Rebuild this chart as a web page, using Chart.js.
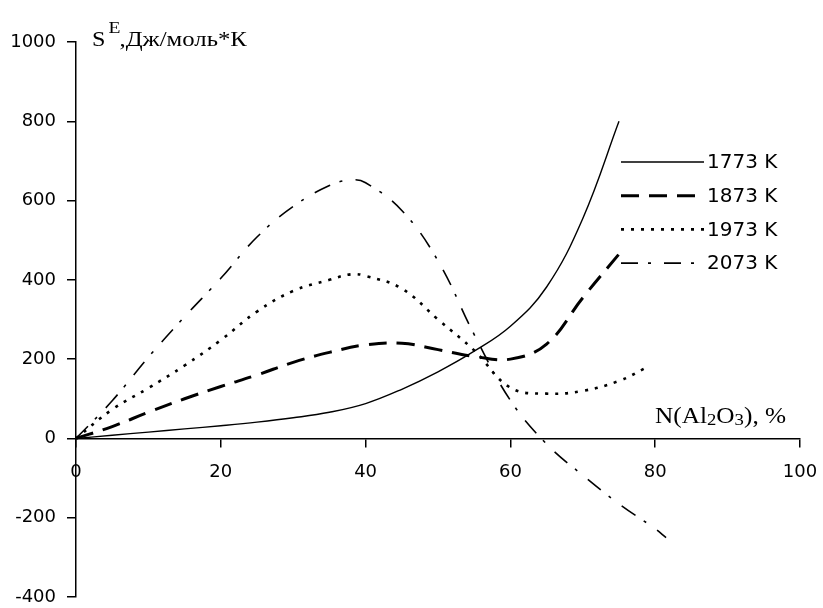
<!DOCTYPE html>
<html>
<head>
<meta charset="utf-8">
<script src="https://cdn.jsdelivr.net/npm/chart.js@4.4.0/dist/chart.umd.min.js"></script>
<style>
  html, body { margin: 0; padding: 0; background: #fff; }
  #wrap { width: 823px; height: 608px; }
</style>
</head>
<body>
<div id="wrap"><canvas id="chart"></canvas></div>
<script>
// Excess entropy S^E vs Al2O3 content at four temperatures
const seriesLabels = ['1773 K', '1873 K', '1973 K', '2073 K'];

const x1773 = [0, 5, 10, 15, 20, 25, 30, 35, 40, 45, 50, 55, 60, 65, 70, 75];
const s1773 = [0, 8, 16, 24, 32, 41, 52, 66, 88, 124, 168, 220, 283, 382, 555, 800];

const x1873 = [0, 5, 10, 15, 20, 25, 30, 35, 40, 45, 50, 55, 60, 65, 70, 75];
const s1873 = [0, 30, 66, 100, 131, 160, 192, 217, 236, 240, 224, 207, 200, 238, 355, 465];

const x1973 = [0, 5, 10, 15, 20, 25, 30, 35, 38, 40, 45, 50, 55, 60, 65, 70, 75, 78.6];
const s1973 = [0, 73, 127, 184, 248, 320, 372, 400, 414, 410, 378, 300, 222, 128, 113, 120, 145, 177];

const x2073 = [0, 5, 10, 15, 20, 25, 30, 35, 38, 40, 45, 50, 55, 60, 65, 70, 75, 80, 81.5];
const s2073 = [0, 95, 205, 307, 404, 508, 585, 638, 652, 645, 575, 448, 262, 96, -14, -93, -165, -228, -250];

const xMin = 0, xMax = 100, xStep = 20;
const yMin = -400, yMax = 1000, yStep = 200;

const pairs = (xs, ys) => xs.map((x, i) => ({ x: x, y: ys[i] }));

const lineStyles = [
    { width: 1.4, dash: [] },
    { width: 3, dash: [18, 10] },
    { width: 2.6, dash: [3, 7] },
    { width: 1.6, dash: [17, 10, 3, 13] }
];

const seriesData = [
    pairs(x1773, s1773),
    pairs(x1873, s1873),
    pairs(x1973, s1973),
    pairs(x2073, s2073)
];

// text drawn wider than the font, like the old spreadsheet export
function drawWide(ctx, text, x, y, font, sx) {
    ctx.save();
    ctx.font = font;
    ctx.translate(x, y);
    ctx.scale(sx, 1);
    ctx.fillText(text, 0, 0);
    const w = ctx.measureText(text).width * sx;
    ctx.restore();
    return w;
}

const titlesPlugin = {
    id: 'axisTitles',
    afterDraw(chart) {
        const ctx = chart.ctx;
        ctx.save();
        ctx.fillStyle = '#000';
        ctx.textBaseline = 'alphabetic';
        ctx.textAlign = 'left';

        // y title: S^E,Дж/моль*К
        const serif = '"Liberation Serif", "Times New Roman", serif';
        let x = 92;
        x += drawWide(ctx, 'S', x, 46, '21px ' + serif, 1.15);
        drawWide(ctx, 'E', x + 3, 33, '17px ' + serif, 1.15);
        x += 14;
        drawWide(ctx, ',Дж/моль*К', x, 46, '21px ' + serif, 1.18);

        // x title: N(Al2O3), %
        x = 655;
        const base = 423;
        const big = '23px ' + serif, small = '17px ' + serif;
        x += drawWide(ctx, 'N(Al', x, base, big, 1.1);
        x += drawWide(ctx, '2', x, base + 2, small, 1.1);
        x += drawWide(ctx, 'O', x, base, big, 1.1);
        x += drawWide(ctx, '3', x, base + 2, small, 1.1);
        drawWide(ctx, '), %', x, base, big, 1.1);
        ctx.restore();
    }
};

const legendPlugin = {
    id: 'sideLegend',
    afterDraw(chart) {
        const ctx = chart.ctx;
        ctx.save();
        chart.data.datasets.forEach((ds, i) => {
            const y = 162 + i * 33.7;
            ctx.beginPath();
            ctx.strokeStyle = ds.borderColor;
            ctx.lineWidth = ds.borderWidth;
            ctx.setLineDash(ds.borderDash);
            ctx.moveTo(621, y);
            ctx.lineTo(704, y);
            ctx.stroke();
            ctx.setLineDash([]);
            ctx.fillStyle = '#000';
            ctx.font = '20px "DejaVu Sans", sans-serif';
            ctx.textBaseline = 'middle';
            ctx.textAlign = 'left';
            ctx.fillText(ds.label, 707, y + 1);
        });
        ctx.restore();
    }
};

const tickFont = { family: '"DejaVu Sans", sans-serif', size: 18 };
const plainNumber = (v) => String(v);

new Chart(document.getElementById('chart').getContext('2d'), {
    type: 'line',
    data: {
        datasets: seriesLabels.map((label, i) => ({
            label: label,
            data: seriesData[i],
            borderColor: '#000',
            borderWidth: lineStyles[i].width,
            borderDash: lineStyles[i].dash,
            pointRadius: 0,
            tension: 0.4,
            fill: false
        }))
    },
    options: {
        responsive: true,
        maintainAspectRatio: false,
        animation: false,
        layout: {
            padding: { top: 42, right: 23, bottom: 11, left: 0 }
        },
        plugins: {
            legend: { display: false },
            tooltip: { enabled: false }
        },
        scales: {
            x: {
                type: 'linear',
                position: { y: 0 },
                min: xMin,
                max: xMax,
                ticks: {
                    stepSize: xStep,
                    color: '#000',
                    font: tickFont,
                    padding: 15,
                    maxRotation: 0,
                    callback: plainNumber
                },
                grid: {
                    drawOnChartArea: false,
                    tickLength: 8,
                    color: '#000',
                    lineWidth: 1.5
                },
                border: { color: '#000', width: 1.5 },
                // the axis sits on y = 0, so it takes no room at the bottom
                afterFit(scale) {
                    scale.height = 0;
                    scale.paddingLeft = 0;
                    scale.paddingRight = 0;
                }
            },
            y: {
                type: 'linear',
                min: yMin,
                max: yMax,
                ticks: {
                    stepSize: yStep,
                    color: '#000',
                    font: tickFont,
                    padding: 11,
                    callback: plainNumber
                },
                grid: {
                    drawOnChartArea: false,
                    tickLength: 9,
                    color: '#000',
                    lineWidth: 1.5
                },
                border: { color: '#000', width: 1.5 },
                afterFit(scale) {
                    scale.width = 76;
                    scale.paddingTop = 0;
                    scale.paddingBottom = 0;
                }
            }
        }
    },
    plugins: [titlesPlugin, legendPlugin]
});
</script>
</body>
</html>
